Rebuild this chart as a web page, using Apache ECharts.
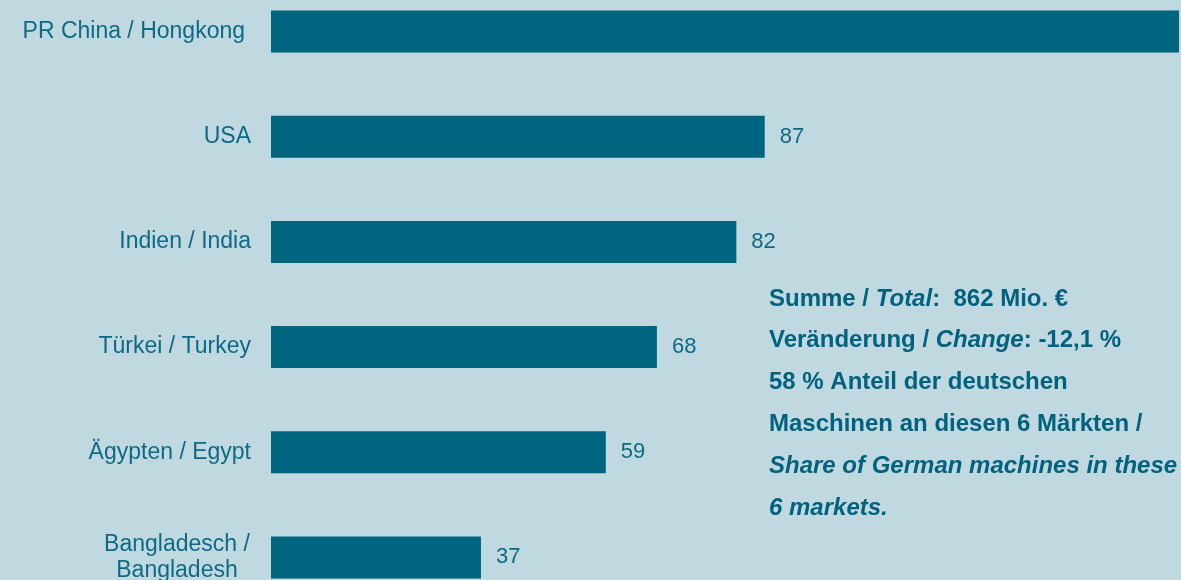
<!DOCTYPE html>
<html>
<head>
<meta charset="utf-8">
<script src="https://cdn.jsdelivr.net/npm/echarts@6/dist/echarts.min.js"></script>
<style>
  html, body { margin: 0; padding: 0; background: #c0d9e0; overflow: hidden; }
  /* plot area runs past the top and bottom edges of the page */
  #chart { width: 1181px; height: 631px; margin-top: -21px; }
</style>
</head>
<body>
<div id="chart"></div>
<script>
  // Märkte / markets (Mio. €)
  const categories = ['PR China / Hongkong', 'USA', 'Indien / India', 'Türkei / Turkey', 'Ägypten / Egypt', 'Bangladesch / Bangladesh']
  const values = [529, 87, 82, 68, 59, 37]
  const axisMax = 160

  // Anmerkung / note, one entry per line: [text, italic]
  const noteLines = [
    [['Summe / ', false], ['Total', true], [':  862 Mio. €', false]],
    [['Veränderung / ', false], ['Change', true], [': -12,1 %', false]],
    [['58 % Anteil der deutschen', false]],
    [['Maschinen an diesen 6 Märkten /', false]],
    [['Share of German machines in these', true]],
    [['6 markets.', true]]
  ]

  const FONT = "'Liberation Sans', Arial, sans-serif"
  const BAR = '#00657f'
  const TXT = '#0d6a84'
  const NOTE = '#00627e'

  let myChart = echarts.init(document.getElementById('chart'))

  let graphic = noteLines.map((line, i) => ({
    type: 'text',
    left: 769,
    top: 322 + i * 41.8 - 14,
    style: {
      text: line.map(p => (p[1] ? '{i|' : '{b|') + p[0] + '}').join(''),
      rich: {
        b: { fontFamily: FONT, fontSize: 24, fontWeight: 'bold', fill: NOTE, lineHeight: 28 },
        i: { fontFamily: FONT, fontSize: 24, fontWeight: 'bold', fontStyle: 'italic', fill: NOTE, lineHeight: 28 }
      }
    }
  }))

  myChart.setOption({
    backgroundColor: '#c0d9e0',
    animation: false,
    grid: { left: 271, right: 2, top: 0, bottom: 0 },
    xAxis: {
      type: 'value',
      min: 0,
      max: axisMax,
      show: false
    },
    yAxis: {
      type: 'category',
      inverse: true,
      data: categories,
      axisLine: { show: false },
      axisTick: { show: false },
      axisLabel: {
        margin: 20,
        color: TXT,
        fontFamily: FONT,
        fontSize: 23,
        formatter: (v) => {
          if (v.indexOf('Bangladesch') === 0) {
            return '{c|Bangladesch /}\n{c|Bangladesh}'
          }
          if (v.indexOf('PR China') === 0) {
            return '{p|' + v + '}'
          }
          return v
        },
        rich: {
          c: { width: 148, align: 'center', color: TXT, fontFamily: FONT, fontSize: 23, lineHeight: 26 },
          p: { padding: [0, 6, 0, 0], color: TXT, fontFamily: FONT, fontSize: 23 }
        }
      }
    },
    series: [{
      type: 'bar',
      data: values,
      barWidth: 42,
      itemStyle: { color: BAR },
      label: {
        show: true,
        position: 'right',
        distance: 15,
        color: TXT,
        fontFamily: FONT,
        fontSize: 22
      }
    }],
    graphic: graphic
  })
</script>
</body>
</html>
